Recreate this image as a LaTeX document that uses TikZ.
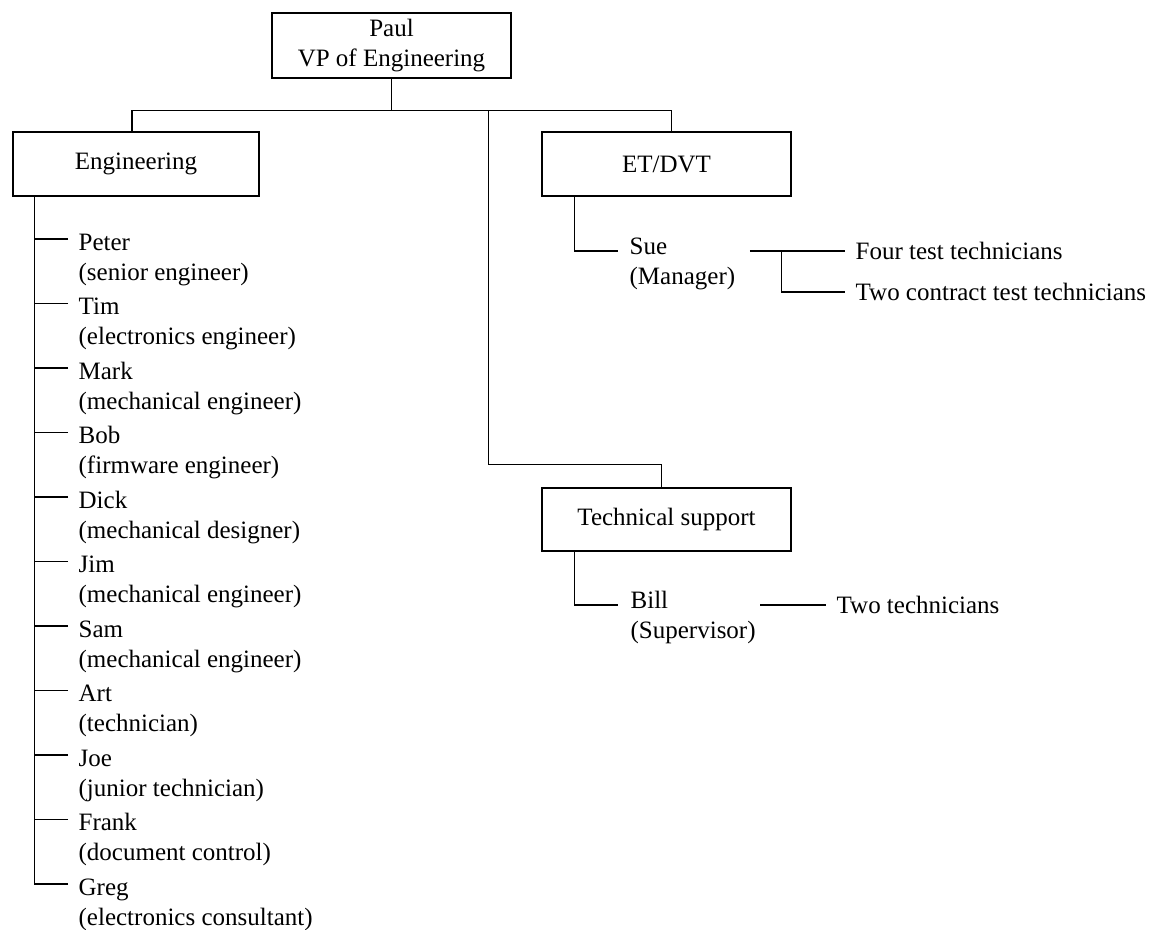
\documentclass[tikz,border=0pt]{standalone}
\usepackage{fontspec}
\setmainfont{Liberation Serif}
% two stacked lines whose baseline is the first line
\newcommand\twoline[2]{\vtop{\baselineskip=30pt\hbox{#1}\hbox{#2}}}
\begin{document}
\begin{tikzpicture}[x=1pt,y=-1pt,line width=1.3pt,
  unitbox/.style={draw,line width=1.3pt,minimum height=64pt,inner sep=0pt,
    align=center,font=\fontsize{25}{30}\selectfont},
  member/.style={inner sep=0pt,anchor=base west,font=\fontsize{25}{30}\selectfont}]
\useasboundingbox (0,0) rectangle (1161,929);

% units
\node[unitbox,minimum width=239pt,minimum height=65pt] (paul) at (391.5,45.5) {Paul\\VP of Engineering};
\node[unitbox,minimum width=246pt] (eng) at (136,164) {Engineering};
\node[unitbox,minimum width=249pt] (et) at (666.5,164) {ET/DVT};
\node[unitbox,minimum width=249pt,minimum height=63pt] (tech) at (666.5,519.5) {Technical support};

% top-level bus
\draw (paul.south) -- ++(0,32) coordinate (bus);
\draw ([xshift=-4pt]eng.north) |- (bus) -| ([xshift=5pt]et.north);
\path (bus) ++(97,0) coordinate (tjoin);
\draw (tjoin) |- ([xshift=-5pt,yshift=23pt]tech.north) -- ([xshift=-5pt]tech.north);

% engineering staff
\foreach \nm/\ds [count=\i from 0] in {Peter/senior engineer,Tim/electronics engineer,
    Mark/mechanical engineer,Bob/firmware engineer,Dick/mechanical designer,
    Jim/mechanical engineer,Sam/mechanical engineer,Art/technician,
    Joe/junior technician,Frank/document control,Greg/electronics consultant}{
  \node[member] (m\i) at (78,250+64.5*\i) {\twoline{\nm}{(\ds)}};
  \draw ([xshift=-10pt,yshift=11pt]m\i.base west) -- ++(-33,0);
}
\draw ([xshift=22pt]eng.south west) |- ([xshift=-10pt,yshift=11pt]m10.base west);

% ET/DVT
\node[member] (sue) at (629,254) {\twoline{Sue}{(Manager)}};
\node[member] (four) at (855,259) {Four test technicians};
\node[member] (two) at (855,300) {Two contract test technicians};
\draw ([xshift=33pt]et.south west) |- ([xshift=-11pt,yshift=3pt]sue.base west);
\draw ([xshift=14pt,yshift=3pt]sue.base east) -- ([xshift=-10pt,yshift=8pt]four.base west);
\path ([xshift=46pt,yshift=3pt]sue.base east) coordinate (suefork);
\draw (suefork) |- ([xshift=-10pt,yshift=8pt]two.base west);

% technical support
\node[member] (bill) at (630,608) {\twoline{Bill}{(Supervisor)}};
\node[member] (twotech) at (836,613) {Two technicians};
\draw ([xshift=33pt]tech.south west) |- ([xshift=-12pt,yshift=3pt]bill.base west);
\draw ([xshift=4pt,yshift=3pt]bill.base east) -- ([xshift=-10pt,yshift=8pt]twotech.base west);
\end{tikzpicture}
\end{document}
